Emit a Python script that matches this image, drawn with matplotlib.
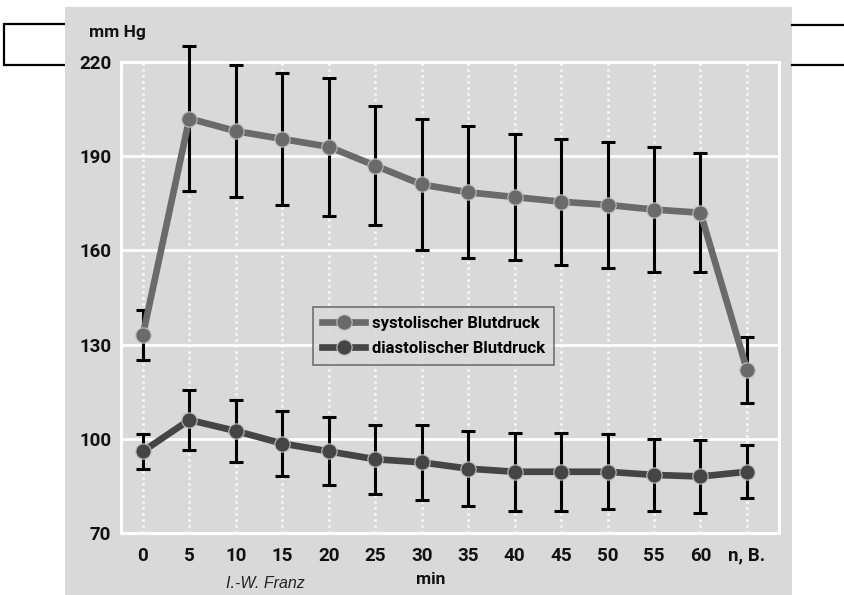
import numpy as np
import matplotlib
matplotlib.use('Agg')
import matplotlib.pyplot as plt
from matplotlib.patches import Rectangle
from matplotlib.lines import Line2D

# Werte (mm Hg)
zeitpunkte = ['0', '5', '10', '15', '20', '25', '30', '35', '40', '45', '50', '55', '60', 'n, B.']
systolisch = [133, 202, 198, 195.5, 193, 187, 181, 178.5, 177, 175.5, 174.5, 173, 172, 122]
systolisch_sd = [8, 23, 21, 21, 22, 19, 21, 21, 20, 20, 20, 20, 19, 10.5]
diastolisch = [96, 106, 102.5, 98.5, 96, 93.5, 92.5, 90.5, 89.5, 89.5, 89.5, 88.5, 88, 89.5]
diastolisch_sd = [5.5, 9.5, 10, 10.5, 10.8, 11, 12, 12, 12.5, 12.5, 12, 11.5, 11.5, 8.5]
yticks = [70, 100, 130, 160, 190, 220]

W, H = 845, 595
grau = '#d9d9d9'
fig = plt.figure(figsize=(W / 100, H / 100), dpi=100)
fig.patch.set_facecolor('white')

# grauer Hintergrund und die schwarzen Linien am Rand
fig.patches.append(Rectangle((4 / W, 1 - 65 / H), 70 / W, 41 / H, transform=fig.transFigure,
                             facecolor='none', edgecolor='black', lw=1.6, zorder=0))
fig.patches.append(Rectangle((65 / W, 0), (792 - 65) / W, (595 - 7) / H, transform=fig.transFigure,
                             facecolor=grau, edgecolor='none', zorder=1))
for yy in (25, 65):
    fig.lines.append(Line2D([792 / W, 1], [1 - yy / H, 1 - yy / H], transform=fig.transFigure,
                            color='black', lw=1.6, zorder=2))

ax = fig.add_axes([121 / W, 1 - 533 / H, (779 - 121) / W, (533 - 62) / H])
ax.set_facecolor(grau)
ax.set_zorder(3)

x = np.arange(len(zeitpunkte))
ax.set_xlim(-0.47, 13.69)
ax.set_ylim(70, 220)

for s in ax.spines.values():
    s.set_color('white')
    s.set_linewidth(2.2)

for xi in x:
    ax.axvline(xi, color='white', lw=1.8, ls=(0, (0.8, 1.6)), zorder=1)
for yv in yticks[1:-1]:
    ax.axhline(yv, color='white', lw=2, zorder=1)

sys_col = '#6a6a6a'
dia_col = '#454545'
ax.errorbar(x, systolisch, yerr=systolisch_sd, fmt='none', ecolor='black', elinewidth=2.2,
            capsize=5, capthick=2.2, zorder=3, clip_on=False)
ax.errorbar(x, diastolisch, yerr=diastolisch_sd, fmt='none', ecolor='black', elinewidth=2.2,
            capsize=5, capthick=2.2, zorder=3, clip_on=False)
l1, = ax.plot(x, systolisch, color=sys_col, lw=4.8, marker='o', ms=11, mfc=sys_col,
              mec='#bdbdbd', mew=0.8, zorder=4, label='systolischer Blutdruck')
l2, = ax.plot(x, diastolisch, color=dia_col, lw=4.8, marker='o', ms=11, mfc=dia_col,
              mec='#bdbdbd', mew=0.8, zorder=4, label='diastolischer Blutdruck')

schrift = ['Roboto', 'DejaVu Sans']
ax.set_xticks(x)
ax.set_xticklabels(zeitpunkte, family=schrift, fontweight='bold', fontsize=13.5, color='#111111')
ax.set_yticks(yticks)
ax.set_yticklabels([str(v) for v in yticks], family=schrift, fontweight='bold', fontsize=13.5,
                   color='#111111')
ax.tick_params(axis='x', length=0, pad=10)
ax.tick_params(axis='y', length=0, pad=7)

leg = ax.legend(handles=[l1, l2], loc='upper left', bbox_to_anchor=((313 - 121) / 658, 1 - (307 - 62) / 471),
                frameon=True, fancybox=False, facecolor=grau, edgecolor='#555555',
                prop={'family': schrift, 'weight': 'bold', 'size': 12},
                handlelength=2.6, borderpad=0.55, labelspacing=0.6, handletextpad=0.4,
                borderaxespad=0)
leg.get_frame().set_linewidth(1.2)
leg.set_zorder(6)

fig.text(89 / W, 1 - 32 / H, 'mm Hg', family=schrift, fontweight='bold', fontsize=12.5,
         va='center', ha='left', color='#111111')
fig.text(431 / W, 1 - 579 / H, 'min', family=schrift, fontweight='bold', fontsize=12.5,
         va='center', ha='center', color='#111111')
fig.text(265 / W, 1 - 584 / H, 'I.-W. Franz', family=['Liberation Sans', 'DejaVu Sans'],
         style='italic', fontsize=11.5, va='center', ha='center', color='#222222')

fig.savefig('out.png', dpi=100, facecolor='white')
